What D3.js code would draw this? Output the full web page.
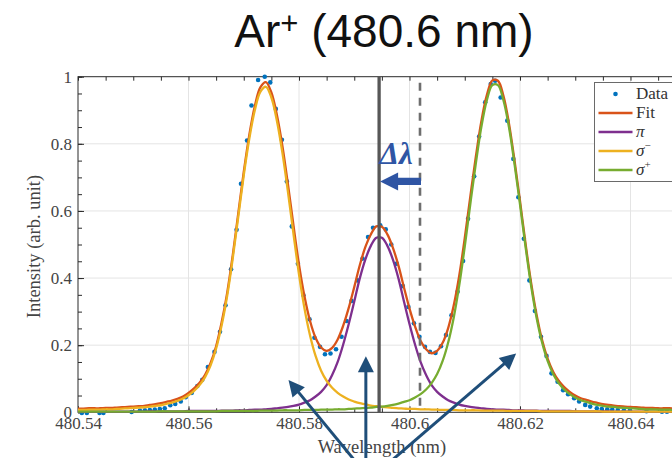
<!DOCTYPE html>
<html>
<head>
<meta charset="utf-8">
<script src="https://cdn.jsdelivr.net/npm/d3@7"></script>
<style>
  html, body { margin: 0; padding: 0; background: #fff; }
  svg { display: block; }
</style>
</head>
<body>
<svg id="chart" width="672" height="458"></svg>
<script>
// ---- Measured spectrum (wavelength in nm, normalised intensity) ----
const dataWavelength = [
  480.5407, 480.5416, 480.5439, 480.5446, 480.5497, 480.5512, 480.5521, 480.5530, 480.5539, 480.5548,
  480.5557, 480.5567, 480.5576, 480.5586, 480.5595, 480.5606, 480.5616, 480.5625, 480.5635, 480.5647,
  480.5657, 480.5667, 480.5677, 480.5687, 480.5695, 480.5706, 480.5714, 480.5726, 480.5738, 480.5748,
  480.5758, 480.5769, 480.5778, 480.5787, 480.5798, 480.5808, 480.5819, 480.5828, 480.5838, 480.5847,
  480.5857, 480.5867, 480.5877, 480.5886, 480.5895, 480.5906, 480.5915, 480.5925, 480.5934, 480.5947,
  480.5957, 480.5967, 480.5977, 480.5988, 480.5998, 480.6008, 480.6018, 480.6028, 480.6037, 480.6047,
  480.6057, 480.6066, 480.6076, 480.6087, 480.6097, 480.6106, 480.6117, 480.6126, 480.6137, 480.6147,
  480.6155, 480.6165, 480.6177, 480.6188, 480.6197, 480.6207, 480.6217, 480.6227, 480.6238, 480.6248,
  480.6257, 480.6268, 480.6278, 480.6287, 480.6298, 480.6307, 480.6318, 480.6327, 480.6339, 480.6348,
  480.6358, 480.6367, 480.6377, 480.6388, 480.6399, 480.6429, 480.6457, 480.6466
];
const dataIntensity = [
  -0.002, -0.002, -0.002, -0.002, 0.001, 0.005, 0.006, 0.007, 0.008, 0.010,
  0.012, 0.021, 0.025, 0.032, 0.045, 0.058, 0.078, 0.097, 0.135, 0.180,
  0.240, 0.319, 0.426, 0.544, 0.681, 0.810, 0.914, 0.990, 1.000, 0.983,
  0.904, 0.812, 0.688, 0.554, 0.443, 0.349, 0.277, 0.222, 0.195, 0.173,
  0.175, 0.188, 0.225, 0.272, 0.332, 0.393, 0.458, 0.522, 0.550, 0.557,
  0.545, 0.500, 0.443, 0.376, 0.314, 0.265, 0.225, 0.195, 0.180, 0.177,
  0.197, 0.230, 0.289, 0.359, 0.451, 0.577, 0.703, 0.822, 0.924, 0.978,
  0.988, 0.938, 0.869, 0.755, 0.641, 0.517, 0.393, 0.302, 0.225, 0.168,
  0.116, 0.091, 0.066, 0.054, 0.042, 0.032, 0.022, 0.017, 0.012, 0.010,
  0.009, 0.008, 0.007, 0.006, 0.005, 0.003, 0.002, 0.002
];

// ---- Fitted Zeeman components, sampled every 0.001 nm from 480.540 nm ----
const gridStart = 480.540;
const gridStep = 0.001;
const sigmaMinus = [
  0.007, 0.007, 0.008, 0.008, 0.008, 0.009, 0.009, 0.010, 0.011, 0.012,
  0.013, 0.014, 0.015, 0.017, 0.019, 0.021, 0.025, 0.029, 0.034, 0.041,
  0.051, 0.064, 0.081, 0.105, 0.140, 0.190, 0.259, 0.347, 0.458, 0.582,
  0.706, 0.815, 0.900, 0.955, 0.970, 0.938, 0.869, 0.773, 0.657, 0.532,
  0.411, 0.309, 0.229, 0.168, 0.124, 0.094, 0.073, 0.058, 0.047, 0.038,
  0.032, 0.027, 0.024, 0.020, 0.018, 0.016, 0.015, 0.013, 0.012, 0.011,
  0.010, 0.010, 0.009, 0.009, 0.008, 0.008, 0.007, 0.007, 0.007, 0.006,
  0.006, 0.006, 0.006, 0.005, 0.005, 0.005, 0.005, 0.005, 0.004, 0.004,
  0.004, 0.004, 0.004, 0.004, 0.003, 0.003, 0.003, 0.003, 0.003, 0.003,
  0.003, 0.003, 0.003, 0.003, 0.003, 0.002, 0.002, 0.002, 0.002, 0.002,
  0.002, 0.002, 0.002, 0.002, 0.002, 0.002, 0.002, 0.002, 0.002, 0.002, 0.002
];
const piComponent = [
  0.002, 0.002, 0.002, 0.002, 0.002, 0.002, 0.002, 0.002, 0.002, 0.002,
  0.002, 0.002, 0.002, 0.003, 0.003, 0.003, 0.003, 0.003, 0.003, 0.003,
  0.004, 0.004, 0.004, 0.004, 0.004, 0.004, 0.005, 0.005, 0.005, 0.006,
  0.006, 0.007, 0.008, 0.008, 0.009, 0.010, 0.012, 0.014, 0.016, 0.019,
  0.023, 0.029, 0.036, 0.047, 0.061, 0.081, 0.111, 0.150, 0.202, 0.263,
  0.330, 0.399, 0.455, 0.496, 0.520, 0.520, 0.496, 0.455, 0.399, 0.330,
  0.263, 0.202, 0.150, 0.111, 0.081, 0.061, 0.047, 0.036, 0.029, 0.023,
  0.019, 0.016, 0.014, 0.012, 0.010, 0.009, 0.008, 0.008, 0.007, 0.006,
  0.006, 0.005, 0.005, 0.005, 0.004, 0.004, 0.004, 0.004, 0.004, 0.004,
  0.003, 0.003, 0.003, 0.003, 0.003, 0.003, 0.003, 0.002, 0.002, 0.002,
  0.002, 0.002, 0.002, 0.002, 0.002, 0.002, 0.002, 0.002, 0.002, 0.002, 0.002
];
const sigmaPlus = [
  0.002, 0.002, 0.002, 0.002, 0.002, 0.002, 0.002, 0.002, 0.002, 0.002,
  0.002, 0.002, 0.002, 0.002, 0.002, 0.003, 0.003, 0.003, 0.003, 0.003,
  0.003, 0.003, 0.003, 0.003, 0.003, 0.003, 0.004, 0.004, 0.004, 0.004,
  0.004, 0.004, 0.004, 0.005, 0.005, 0.005, 0.005, 0.006, 0.006, 0.006,
  0.006, 0.007, 0.007, 0.007, 0.008, 0.008, 0.008, 0.009, 0.009, 0.010,
  0.011, 0.012, 0.013, 0.014, 0.016, 0.017, 0.019, 0.022, 0.026, 0.031,
  0.036, 0.044, 0.054, 0.068, 0.087, 0.114, 0.153, 0.208, 0.282, 0.378,
  0.494, 0.620, 0.741, 0.850, 0.930, 0.975, 0.975, 0.930, 0.850, 0.741,
  0.620, 0.494, 0.378, 0.282, 0.208, 0.153, 0.114, 0.087, 0.068, 0.054,
  0.044, 0.036, 0.031, 0.026, 0.022, 0.019, 0.017, 0.016, 0.014, 0.013,
  0.012, 0.011, 0.010, 0.009, 0.009, 0.008, 0.008, 0.008, 0.007, 0.007, 0.007
];

// ---- Axes ----
const xDomain = [480.54, 480.65];
const yDomain = [0, 1];
const xTickValues = [480.54, 480.56, 480.58, 480.60, 480.62, 480.64];
const xTickLabels = ["480.54", "480.56", "480.58", "480.6", "480.62", "480.64"];
const yTickValues = [0, 0.2, 0.4, 0.6, 0.8, 1];
const yTickLabels = ["0", "0.2", "0.4", "0.6", "0.8", "1"];
const xMinorStep = 0.005;
const yMinorStep = 0.05;

// ---- Reference lines: shifted pi line centre and unshifted line position ----
const shiftedCentre = 480.5945;
const restWavelength = 480.6019;

// ---- Annotation arrows (wavelength, intensity) ----
const arrowTips  = [[480.5781, 0.096], [480.5921, 0.167], [480.6193, 0.175]];
const arrowTails = [[480.5924, -0.19], [480.5921, -0.19], [480.5935, -0.19]];
const shiftArrowLevel = 0.688;
const shiftLabelLevel = 0.742;

const legendLabels = ["Data", "Fit", "π", "σ", "σ"];
const legendSup = ["", "", "", "−", "+"];

const colors = {
  data: "#0072BD", fit: "#D95319", pi: "#7E2F8E", sm: "#EDB120", sp: "#77AC30",
  axis: "#2b2b2b", grid: "#e4e4e4", text: "#444"
};
const serif = "'Liberation Serif', 'Times New Roman', serif";

const svg = d3.select("#chart");
const x = d3.scaleLinear().domain(xDomain).range([78, 685.75]);
const y = d3.scaleLinear().domain(yDomain).range([412.3, 76.7]);
const [x0, x1] = x.range();
const [yB, yT] = y.range();

// Title
const title = svg.append("text")
  .attr("x", 384).attr("y", 47)
  .attr("text-anchor", "middle")
  .attr("font-family", "'Liberation Sans', Arial, sans-serif")
  .attr("font-size", 46).attr("fill", "#111");
title.append("tspan").text("Ar");
title.append("tspan").attr("font-size", 31).attr("dy", -13).text("+");
title.append("tspan").attr("font-size", 46).attr("dy", 13).text(" (480.6 nm)");

// Grid
const g = svg.append("g");
g.selectAll(".gx").data(xTickValues.slice(1)).join("line")
  .attr("x1", d => x(d)).attr("x2", d => x(d)).attr("y1", yT).attr("y2", yB)
  .attr("stroke", colors.grid).attr("stroke-width", 1);
g.selectAll(".gy").data(yTickValues.slice(1, -1)).join("line")
  .attr("x1", x0).attr("x2", x1).attr("y1", d => y(d)).attr("y2", d => y(d))
  .attr("stroke", colors.grid).attr("stroke-width", 1);

// Axes with inward ticks
const xMinor = d3.range(0, Math.round((xDomain[1] - xDomain[0]) / xMinorStep) + 1).map(i => xDomain[0] + i * xMinorStep);
const yMinor = d3.range(0, Math.round((yDomain[1] - yDomain[0]) / yMinorStep) + 1).map(i => i * yMinorStep);

function styleAxis(sel) {
  sel.select(".domain").remove();
  sel.selectAll(".tick line").attr("stroke", colors.axis);
  sel.selectAll(".tick text").attr("fill", colors.text).attr("font-family", serif).attr("font-size", 17);
}
svg.append("g").attr("transform", `translate(0,${yB})`)
  .call(d3.axisBottom(x).tickValues(xMinor).tickSize(-4).tickFormat(""))
  .call(styleAxis);
svg.append("g").attr("transform", `translate(0,${yB})`)
  .call(d3.axisBottom(x).tickValues(xTickValues).tickSize(-6).tickPadding(5)
    .tickFormat((d, i) => xTickLabels[i]))
  .call(styleAxis);
svg.append("g").attr("transform", `translate(0,${yT})`)
  .call(d3.axisTop(x).tickValues(xMinor).tickSize(-4).tickFormat(""))
  .call(styleAxis);
svg.append("g").attr("transform", `translate(${x0},0)`)
  .call(d3.axisLeft(y).tickValues(yMinor).tickSize(-4).tickFormat(""))
  .call(styleAxis);
svg.append("g").attr("transform", `translate(${x0},0)`)
  .call(d3.axisLeft(y).tickValues(yTickValues).tickSize(-6).tickPadding(6)
    .tickFormat((d, i) => yTickLabels[i]))
  .call(styleAxis);

svg.append("rect")
  .attr("x", x0).attr("y", yT).attr("width", x1 - x0).attr("height", yB - yT)
  .attr("fill", "none").attr("stroke", colors.axis).attr("stroke-width", 1);

// Axis labels
svg.append("text")
  .attr("x", (x0 + x1) / 2).attr("y", 453)
  .attr("text-anchor", "middle").attr("font-family", serif).attr("font-size", 18.5)
  .attr("fill", colors.text).text("Wavelength (nm)");
svg.append("text")
  .attr("transform", `translate(40,${(yT + yB) / 2 + 2}) rotate(-90)`)
  .attr("text-anchor", "middle").attr("font-family", serif).attr("font-size", 18.5)
  .attr("fill", colors.text).text("Intensity (arb. unit)");

// Data points
svg.append("g").selectAll("circle").data(dataWavelength).join("circle")
  .attr("cx", d => x(d)).attr("cy", (d, i) => y(dataIntensity[i]))
  .attr("r", 2.3).attr("fill", colors.data);

// Fit and components
const wl = sigmaMinus.map((_, i) => +(gridStart + i * gridStep).toFixed(4));
const fit = sigmaMinus.map((v, i) => v + piComponent[i] + sigmaPlus[i]);
const line = d3.line().x((d, i) => x(wl[i])).y(d => y(d)).curve(d3.curveCatmullRom.alpha(0.5));
[[fit, colors.fit], [piComponent, colors.pi], [sigmaMinus, colors.sm], [sigmaPlus, colors.sp]]
  .forEach(([arr, c]) => {
    svg.append("path").datum(arr).attr("d", line)
      .attr("fill", "none").attr("stroke", c).attr("stroke-width", 2.3)
      .attr("stroke-linejoin", "round");
  });

// Vertical markers
svg.append("line")
  .attr("x1", x(shiftedCentre)).attr("x2", x(shiftedCentre)).attr("y1", yT).attr("y2", yB)
  .attr("stroke", "#575757").attr("stroke-width", 3.3);
svg.append("line")
  .attr("x1", x(restWavelength)).attr("x2", x(restWavelength)).attr("y1", y(0.982)).attr("y2", yB)
  .attr("stroke", "#6e6e6e").attr("stroke-width", 2.6).attr("stroke-dasharray", "8,7");

// Legend
const lg = svg.append("g");
lg.append("rect").attr("x", 594.5).attr("y", 82.5).attr("width", 110).attr("height", 99)
  .attr("fill", "#fff").attr("stroke", "#6a6a6a").attr("stroke-width", 1);
const legendColors = [colors.data, colors.fit, colors.pi, colors.sm, colors.sp];
legendLabels.forEach((lab, i) => {
  const cy = 94 + i * 19;
  if (i === 0) {
    lg.append("circle").attr("cx", 615.5).attr("cy", cy).attr("r", 2.3).attr("fill", legendColors[i]);
  } else {
    lg.append("line").attr("x1", 598.5).attr("x2", 632.5).attr("y1", cy).attr("y2", cy)
      .attr("stroke", legendColors[i]).attr("stroke-width", 2.3);
  }
  const t = lg.append("text").attr("x", 636).attr("y", cy + 5)
    .attr("font-family", serif).attr("font-size", 17).attr("fill", "#333");
  const main = t.append("tspan").text(lab);
  if (i >= 2) main.attr("font-style", "italic");
  if (legendSup[i]) {
    t.append("tspan").attr("font-size", 11).attr("dy", -7).text(legendSup[i]);
  }
});

// Shift annotation: Δλ label and block arrow from rest position to shifted centre
const shiftBlue = "#2F55A4";
svg.append("text")
  .attr("x", x(shiftedCentre) + 0.5).attr("y", y(shiftLabelLevel) + 0.5)
  .attr("font-family", serif).attr("font-weight", "bold").attr("font-style", "italic")
  .attr("font-size", 31).attr("fill", shiftBlue).text("Δλ");
{
  const tipX = x(shiftedCentre) + 1, tailX = x(restWavelength) + 1, cy = y(shiftArrowLevel);
  const headLen = 18, headHalf = 9, shaftHalf = 3.6;
  const pts = [
    [tipX, cy], [tipX + headLen, cy - headHalf], [tipX + headLen, cy - shaftHalf],
    [tailX, cy - shaftHalf], [tailX, cy + shaftHalf], [tipX + headLen, cy + shaftHalf],
    [tipX + headLen, cy + headHalf]
  ];
  svg.append("polygon").attr("points", pts.map(p => p.join(",")).join(" ")).attr("fill", shiftBlue);
}

// Pointer arrows to the three components
const navy = "#1F4E79";
arrowTips.forEach((tip, i) => {
  const tx = x(tip[0]), ty = y(tip[1]);
  const sx = x(arrowTails[i][0]), sy = y(arrowTails[i][1]);
  const len = Math.hypot(tx - sx, ty - sy);
  const ux = (tx - sx) / len, uy = (ty - sy) / len;
  const headLen = 16, headHalf = 8;
  const bx = tx - ux * headLen, by = ty - uy * headLen;
  svg.append("line").attr("x1", sx).attr("y1", sy).attr("x2", bx + ux * 2).attr("y2", by + uy * 2)
    .attr("stroke", navy).attr("stroke-width", 3);
  svg.append("polygon")
    .attr("points", [[tx, ty], [bx - uy * headHalf, by + ux * headHalf], [bx + uy * headHalf, by - ux * headHalf]]
      .map(p => p.join(",")).join(" "))
    .attr("fill", navy);
});
</script>
</body>
</html>
